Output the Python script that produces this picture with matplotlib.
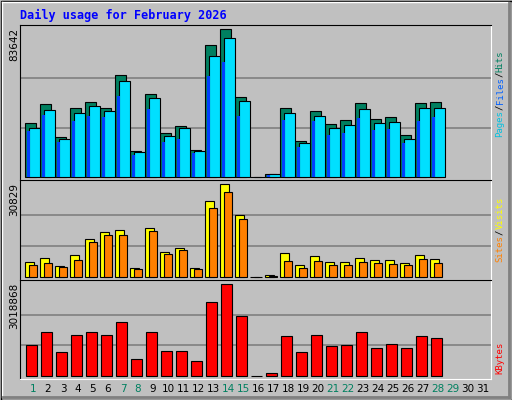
import matplotlib
matplotlib.use('Agg')
import numpy as np
import matplotlib.pyplot as plt
from matplotlib.patches import Rectangle

days = np.arange(1, 32)
weekend = [1, 7, 8, 14, 15, 21, 22, 28, 29]

# values, days 1..28 (day 16 empty, 29-31 none)
hits = [30272, 41056, 22326, 38786, 42192, 38786, 57517, 14379, 46732, 24596, 28569, 14947, 74545, 83642,
        45030, 0, 1514, 38786, 20055, 37083, 29704, 31975, 41624, 32542, 33678, 23461, 41624, 42192]
files = [27434, 37651, 21190, 35948, 39921, 37083, 54111, 13812, 44462, 22893, 27434, 14379, 68301, 78518,
         42759, 0, 1514, 35948, 18920, 34245, 27434, 29137, 38218, 30272, 30840, 21190, 38786, 38786]
pages = [25731, 34813, 19488, 31407, 34245, 33678, 45597, 12109, 38218, 19488, 21190, 13244, 56949, 64896,
         34245, 0, 946, 31975, 16650, 31407, 23461, 24596, 33110, 26299, 26866, 18920, 31407, 33678]
visits = [4786, 6122, 3450, 7123, 12466, 14803, 15471, 2783, 16139, 8125, 9461, 2783, 25154, 30829,
          20479, 0, 445, 7791, 3784, 6789, 4786, 4786, 6122, 5454, 5454, 4452, 7123, 5788]
sites = [3784, 4452, 3116, 5454, 11464, 13801, 13801, 2449, 15137, 7457, 8793, 2449, 22817, 28159,
         19144, 0, 223, 5120, 2783, 5120, 3784, 3784, 4786, 4452, 4118, 3784, 5788, 4452]
kbytes = [1002638, 1432340, 771260, 1333178, 1432340, 1333178, 1762880, 539882, 1432340, 804314, 804314,
          473774, 2423960, 3018868, 1961204, 0, 77126, 1300124, 771260, 1333178, 969584, 1002638, 1432340,
          903476, 1035692, 903476, 1300124, 1234016]

W, H = 512, 400
GRAY = '#c0c0c0'
fig = plt.figure(figsize=(W / 100, H / 100), dpi=100, facecolor=GRAY)

# outer frame
bg = fig.add_axes([0, 0, 1, 1])
bg.set_xlim(0, W)
bg.set_ylim(H, 0)
bg.axis('off')
bg.add_patch(Rectangle((0.5, 0.5), W - 1, H - 1, fill=False, ec='black', lw=1))
bg.plot([2, W - 3], [2, 2], color='white', lw=1)
bg.plot([2, 2], [2, H - 3], color='white', lw=1)
bg.plot([3, W - 3], [H - 3, H - 3], color='#808080', lw=2)
bg.plot([W - 3, W - 3], [3, H - 3], color='#808080', lw=2)
bg.text(20, 15, 'Daily usage for February 2026', color='#0000ff', fontsize=8.5,
        family='DejaVu Sans Mono', weight='bold', va='center')

x0, x1 = 20, 491


def panel(top, bottom, base, vmax, px_max):
    s = vmax / px_max
    ax = fig.add_axes([x0 / W, 1 - bottom / H, (x1 - x0) / W, (bottom - top) / H])
    ax.set_xlim(x0, x1)
    ax.set_ylim(-(bottom - base) * s, (base - top) * s)
    ax.set_facecolor(GRAY)
    ax.set_xticks([])
    ax.set_yticks([])
    for side in ['left', 'top']:
        ax.spines[side].set_color('black')
    for side in ['right', 'bottom']:
        ax.spines[side].set_color('white')
    for f in (1 / 3, 2 / 3):
        ax.axhline(vmax * f, color='#808080', lw=1.2, zorder=0)
    bg.text(14, top + 3, f'{vmax}', rotation=90, ha='center', va='top', fontsize=7.5)
    return ax


def lefts(offset):
    return [offset + 15 * (d - 1) for d in range(1, len(hits) + 1)]


ax1 = panel(25, 180, 176.7, max(hits), 147.3)
ax1.bar(lefts(25), hits, width=11, align='edge', color='#008060', ec='black', lw=0.8)
ax1.bar(lefts(29), files, width=11, align='edge', color='#00e0ff', ec='black', lw=0.8)
ax1.bar(lefts(27.3), pages, width=2.2, align='edge', color='#0040ff', lw=0)

ax2 = panel(180, 280, 276.7, max(visits), 92.3)
ax2.bar(lefts(25), visits, width=9, align='edge', color='#ffff00', ec='black', lw=0.8)
ax2.bar(lefts(29), sites, width=8, align='edge', color='#ff8000', ec='black', lw=0.8)

ax3 = panel(280, 379, 375.7, max(kbytes), 91.4)
ax3.bar(lefts(26), kbytes, width=10.5, align='edge', color='#ff0000', ec='black', lw=0.8)

# right side labels, piece by piece going upward
mono = dict(family='DejaVu Sans Mono', fontsize=6.5, rotation=90, ha='center', va='bottom')
step = 5.45


def side_label(y, parts):
    for txt, col in parts:
        bg.text(500, y, txt, color=col, **mono)
        y -= len(txt) * step


side_label(137, [('Pages', '#00c0e0'), ('/', 'black'), ('Files', '#0060ff'), ('/', 'black'), ('Hits', '#008060')])
side_label(262, [('Sites', '#ff8000'), ('/', 'black'), ('Visits', '#ffff00')])
side_label(374, [('KBytes', '#ff0000')])

# day labels
for d in days:
    col = '#008060' if d in weekend else 'black'
    bg.text(33 + 15 * (d - 1), 389, str(d), color=col, fontsize=7.5, ha='center', va='center')

fig.savefig('out.png', dpi=100, facecolor=GRAY)
